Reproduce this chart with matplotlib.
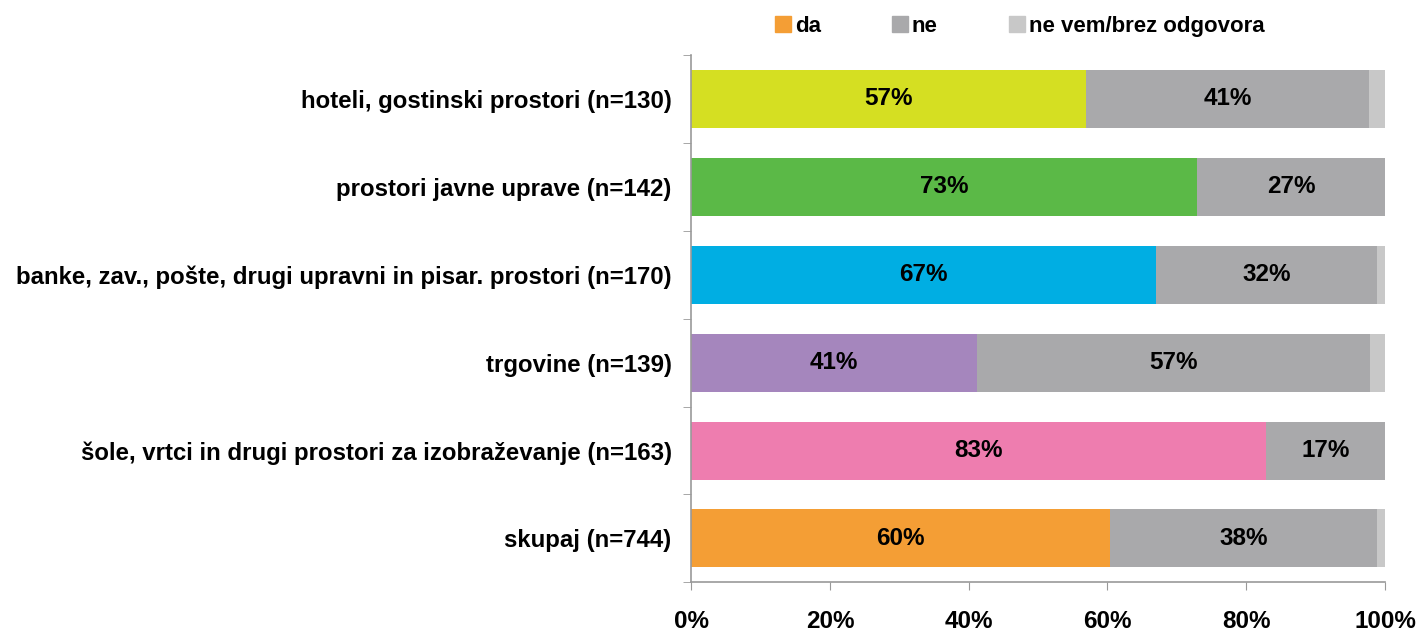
import numpy as np
import matplotlib
matplotlib.use("Agg")
import matplotlib.pyplot as plt
from matplotlib.patches import Patch
from matplotlib.ticker import FixedLocator

plt.rcParams["font.family"] = ["Liberation Sans", "DejaVu Sans"]
plt.rcParams["font.weight"] = "bold"

# data, top to bottom
categories = [
    "hoteli, gostinski prostori (n=130)",
    "prostori javne uprave (n=142)",
    "banke, zav., pošte, drugi upravni in pisar. prostori (n=170)",
    "trgovine (n=139)",
    "šole, vrtci in drugi prostori za izobraževanje (n=163)",
    "skupaj (n=744)",
]
da = [56.9, 72.9, 67.0, 41.2, 82.9, 60.4]
ne = [40.8, 27.1, 31.8, 56.6, 17.1, 38.5]
ne_vem = [2.3, 0.0, 1.2, 2.2, 0.0, 1.1]
da_colors = ["#D5DF22", "#5BB947", "#00AEE3", "#A586BD", "#EE7DAF", "#F49E35"]
xticks = [0, 20, 40, 60, 80, 100]

fs = 17.3

fig = plt.figure(figsize=(14.22, 6.31), dpi=100)
ax = fig.add_axes([0.486, 0.077, 0.488, 0.836])

y = np.arange(len(categories))
h = 0.66
ax.barh(y, da, height=h, color=da_colors)
ax.barh(y, ne, left=da, height=h, color="#A9A9AB")
ax.barh(y, ne_vem, left=np.array(da) + np.array(ne), height=h, color="#C8C8C8")

for i in range(len(categories)):
    ax.text(da[i] / 2, y[i], f"{da[i]:.0f}%", ha="center", va="center",
            fontsize=17.5, fontweight="bold")
    ax.text(da[i] + ne[i] / 2, y[i], f"{ne[i]:.0f}%", ha="center", va="center",
            fontsize=17.5, fontweight="bold")

ax.set_xlim(0, 100)
ax.set_ylim(len(categories) - 0.5, -0.5)
ax.set_xticks(xticks)
ax.set_xticklabels([f"{t}%" for t in xticks], fontsize=17.5, fontweight="bold")
ax.set_yticks(y)
ax.set_yticklabels(categories, fontsize=fs, fontweight="bold")
ax.yaxis.set_minor_locator(FixedLocator(np.arange(-0.5, len(categories), 1)))
ax.tick_params(axis="y", which="major", length=0, pad=14)
ax.tick_params(axis="y", which="minor", length=6, color="#999999", direction="out")
ax.tick_params(axis="x", length=6, color="#999999", pad=14)

for s in ["top", "right"]:
    ax.spines[s].set_visible(False)
for s in ["left", "bottom"]:
    ax.spines[s].set_color("#999999")
    ax.spines[s].set_linewidth(1.2)

handles = [Patch(color="#F49E35", label="da"),
           Patch(color="#A9A9AB", label="ne"),
           Patch(color="#C8C8C8", label="ne vem/brez odgovora")]
fig.legend(handles=handles, loc="center", bbox_to_anchor=(0.717, 0.958), ncol=3,
           frameon=False, handlelength=0.72, handleheight=0.72,
           handletextpad=0.18, columnspacing=3.2, prop={"weight": "bold", "size": 16})

fig.savefig("out.png", dpi=100)
